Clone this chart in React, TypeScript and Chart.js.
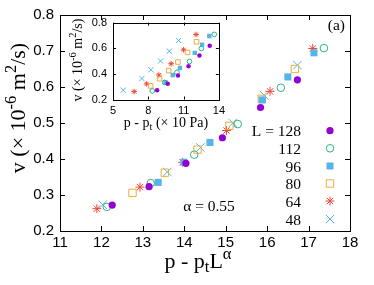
import React, { useEffect, useRef } from 'react';
import { Chart, registerables } from 'chart.js';
Chart.register(...registerables);

// ---- data ----
const seriesNames = ['128', '112', '96', '80', '64', '48'];
// shared v values (×10^-6 m^2/s)
const v128 = [0.272, 0.323, 0.388, 0.459, 0.543, 0.620];
const v112 = [0.267, 0.333, 0.412, 0.497, 0.598, 0.708];
const v96 = [0.335, 0.391, 0.446, 0.564, 0.628, 0.695];
const v80 = [0.306, 0.362, 0.426, 0.492, 0.567, 0.650];
const v64 = [0.262, 0.322, 0.391, 0.479, 0.588, 0.707];
const v48 = [0.273, 0.364, 0.432, 0.500, 0.577, 0.661];
// main: p - p_t L^alpha
const x128 = [12.26, 13.15, 14.04, 14.92, 15.84, 16.73];
const x112 = [12.13, 13.19, 14.24, 15.29, 16.33, 17.37];
const x96 = [13.37, 13.99, 14.62, 15.88, 16.50, 17.13];
const x80 = [12.75, 13.53, 14.32, 15.09, 15.87, 16.67];
const x64 = [11.89, 12.93, 13.96, 15.02, 16.07, 17.10];
const x48 = [12.03, 13.59, 14.39, 15.17, 15.93, 16.73];
// inset: p - p_t (×10 Pa)
const ix128 = [8.75, 9.65, 10.52, 11.42, 12.35, 13.22];
const ix112 = [8.34, 9.39, 10.44, 11.50, 12.51, 13.61];
const ix96 = [9.46, 10.08, 10.69, 11.95, 12.57, 13.19];
const ix80 = [8.20, 8.96, 9.73, 10.52, 11.34, 12.10];
const ix64 = [6.80, 7.86, 8.90, 9.94, 11.00, 12.06];
const ix48 = [5.87, 7.46, 8.22, 9.04, 9.79, 10.58];

const mainXTicks = [11, 12, 13, 14, 15, 16, 17, 18];
const mainYTicks = [0.2, 0.3, 0.4, 0.5, 0.6, 0.7, 0.8];
const insetXTicks = [5, 8, 11, 14];
const insetYTicks = [0.2, 0.4, 0.6, 0.8];
const alphaText = 'α = 0.55';
const panelText = '(a)';

const mainXs = [x128, x112, x96, x80, x64, x48];
const insetXs = [ix128, ix112, ix96, ix80, ix64, ix48];
const vs = [v128, v112, v96, v80, v64, v48];

type Kind = 'fcircle' | 'ocircle' | 'fsquare' | 'osquare' | 'star' | 'cross';
const styles: { kind: Kind; color: string }[] = [
  { kind: 'fcircle', color: '#9400D3' },
  { kind: 'ocircle', color: '#2fb488' },
  { kind: 'fsquare', color: '#56B4E9' },
  { kind: 'osquare', color: '#EBAE3A' },
  { kind: 'star', color: '#F0453A' },
  { kind: 'cross', color: '#56B4E9' },
];

const SANS = "'Liberation Sans', Arial, sans-serif";
const SERIF = "'Liberation Serif', 'Times New Roman', serif";

function pointCfg(kind: Kind, color: string, scale: number) {
  switch (kind) {
    case 'fcircle':
      return { pointStyle: 'circle', pointRadius: 3.6 * scale, pointBackgroundColor: color, pointBorderColor: color, pointBorderWidth: 0 };
    case 'ocircle':
      return { pointStyle: 'circle', pointRadius: 3.8 * scale, pointBackgroundColor: 'rgba(0,0,0,0)', pointBorderColor: color, pointBorderWidth: 1 };
    case 'fsquare':
      return { pointStyle: 'rect', pointRadius: 5 * scale, pointBackgroundColor: color, pointBorderColor: color, pointBorderWidth: 0 };
    case 'osquare':
      return { pointStyle: 'rect', pointRadius: 5.2 * scale, pointBackgroundColor: 'rgba(0,0,0,0)', pointBorderColor: color, pointBorderWidth: 1 };
    case 'star':
      return { pointStyle: 'star', pointRadius: 4.5 * scale, pointBackgroundColor: color, pointBorderColor: color, pointBorderWidth: 1 };
    default:
      return { pointStyle: 'crossRot', pointRadius: 6 * scale, pointBackgroundColor: color, pointBorderColor: color, pointBorderWidth: 1 };
  }
}

function buildDatasets(xs: number[][], scale: number) {
  return xs.map((xarr, i) => ({
    label: seriesNames[i],
    data: xarr.map((x, j) => ({ x, y: vs[i][j] })),
    showLine: false,
    ...pointCfg(styles[i].kind, styles[i].color, scale),
  }));
}

type Seg = { t: string; s?: 'sup' | 'sub' };
function drawRich(ctx: CanvasRenderingContext2D, segs: Seg[], x: number, y: number, size: number, rotate: boolean, align: 'center' | 'left' | 'right' = 'center') {
  ctx.save();
  ctx.translate(x, y);
  if (rotate) ctx.rotate(-Math.PI / 2);
  const small = size * 0.75;
  let total = 0;
  const widths = segs.map((sg) => {
    ctx.font = `${sg.s ? small : size}px ${SERIF}`;
    const w = ctx.measureText(sg.t).width;
    total += w;
    return w;
  });
  let cx = align === 'center' ? -total / 2 : align === 'right' ? -total : 0;
  ctx.textAlign = 'left';
  ctx.textBaseline = 'alphabetic';
  ctx.fillStyle = '#000';
  segs.forEach((sg, i) => {
    ctx.font = `${sg.s ? small : size}px ${SERIF}`;
    const dy = sg.s === 'sup' ? -size * 0.42 : sg.s === 'sub' ? size * 0.2 : 0;
    ctx.fillText(sg.t, cx, dy);
    cx += widths[i];
  });
  ctx.restore();
}

function drawMarker(ctx: CanvasRenderingContext2D, kind: Kind, x: number, y: number, color: string) {
  ctx.save();
  ctx.strokeStyle = color;
  ctx.fillStyle = color;
  ctx.lineWidth = 1;
  ctx.beginPath();
  if (kind === 'fcircle') { ctx.arc(x, y, 3.6, 0, Math.PI * 2); ctx.fill(); }
  else if (kind === 'ocircle') { ctx.arc(x, y, 3.8, 0, Math.PI * 2); ctx.stroke(); }
  else if (kind === 'fsquare') { ctx.rect(x - 3.5, y - 3.5, 7, 7); ctx.fill(); }
  else if (kind === 'osquare') { ctx.rect(x - 3.7, y - 3.7, 7.4, 7.4); ctx.stroke(); }
  else if (kind === 'star') {
    const r = 4.5, o = r * Math.SQRT1_2;
    ctx.moveTo(x - r, y); ctx.lineTo(x + r, y); ctx.moveTo(x, y - r); ctx.lineTo(x, y + r);
    ctx.moveTo(x - o, y - o); ctx.lineTo(x + o, y + o); ctx.moveTo(x - o, y + o); ctx.lineTo(x + o, y - o);
    ctx.stroke();
  } else {
    const o = 6 * Math.SQRT1_2;
    ctx.moveTo(x - o, y - o); ctx.lineTo(x + o, y + o); ctx.moveTo(x - o, y + o); ctx.lineTo(x + o, y - o);
    ctx.stroke();
  }
  ctx.restore();
}

function tickPlugin(len: number) {
  return {
    id: 'innerTicks',
    afterDraw(chart: any) {
      const { ctx, chartArea: a, scales } = chart;
      const xs = scales.x, ys = scales.y;
      ctx.save();
      ctx.strokeStyle = '#000';
      ctx.lineWidth = 1;
      ctx.beginPath();
      xs.ticks.forEach((t: any) => {
        const p = Math.round(xs.getPixelForValue(t.value)) + 0.5;
        ctx.moveTo(p, a.bottom); ctx.lineTo(p, a.bottom - len);
        ctx.moveTo(p, a.top); ctx.lineTo(p, a.top + len);
      });
      ys.ticks.forEach((t: any) => {
        const p = Math.round(ys.getPixelForValue(t.value)) + 0.5;
        ctx.moveTo(a.left, p); ctx.lineTo(a.left + len, p);
        ctx.moveTo(a.right, p); ctx.lineTo(a.right - len, p);
      });
      ctx.stroke();
      ctx.strokeRect(Math.round(a.left) + 0.5, Math.round(a.top) + 0.5, Math.round(a.right - a.left), Math.round(a.bottom - a.top));
      ctx.restore();
    },
  };
}

const textPlugin = {
  id: 'texts',
  afterDraw(chart: any) {
    const ctx: CanvasRenderingContext2D = chart.ctx;
    const vTitle: Seg[] = [{ t: 'v (× 10' }, { t: '-6', s: 'sup' }, { t: ' m' }, { t: '2', s: 'sup' }, { t: '/s)' }];
    drawRich(ctx, vTitle, 25, 108, 22, true);
    drawRich(ctx, [{ t: 'p - p' }, { t: 't', s: 'sub' }, { t: 'L' }, { t: 'α', s: 'sup' }], 198, 268, 22, false);
    drawRich(ctx, vTitle, 82, 60, 14, true);
    drawRich(ctx, [{ t: 'p - p' }, { t: 't', s: 'sub' }, { t: ' (× 10 Pa)' }], 166, 127, 14, false);
    drawRich(ctx, [{ t: alphaText }], 209, 211, 15.5, false);
    drawRich(ctx, [{ t: panelText }], 345, 30, 15.5, false, 'right');
    const rowY = [130.7, 148.3, 166, 183.5, 201, 219];
    seriesNames.forEach((n, i) => {
      const txt = i === 0 ? 'L = ' + n : n;
      drawRich(ctx, [{ t: txt }], 301, rowY[i] + 5.5, 15.5, false, 'right');
      drawMarker(ctx, styles[i].kind, 330, rowY[i], styles[i].color);
    });
  },
};

function makeScales(xmin: number, xmax: number, xstep: number, ymin: number, ymax: number, ystep: number, font: number, yW: number, xH: number, xPad: number, yPad: number, yDec: number) {
  return {
    x: {
      type: 'linear', min: xmin, max: xmax,
      grid: { display: false, drawTicks: false },
      border: { display: false },
      ticks: { stepSize: xstep, color: '#000', font: { family: SANS, size: font }, padding: xPad, maxRotation: 0, autoSkip: false },
      afterFit: (s: any) => { s.height = xH; },
    },
    y: {
      type: 'linear', min: ymin, max: ymax,
      grid: { display: false, drawTicks: false },
      border: { display: false },
      ticks: { stepSize: ystep, color: '#000', font: { family: SANS, size: font }, padding: yPad, autoSkip: false, callback: (v: any) => Number(v).toFixed(yDec) },
      afterFit: (s: any) => { s.width = yW; },
    },
  };
}

export default function App() {
  const mainRef = useRef<HTMLCanvasElement>(null);
  const insetRef = useRef<HTMLCanvasElement>(null);

  useEffect(() => {
    document.body.style.margin = '0';
    const main = new Chart(mainRef.current!, {
      type: 'scatter',
      data: { datasets: buildDatasets(mainXs, 1) as any },
      options: {
        responsive: false, animation: false, devicePixelRatio: 1, events: [],
        layout: { padding: { left: 0, top: 12, right: 24, bottom: 0 } },
        plugins: { legend: { display: false }, tooltip: { enabled: false } },
        scales: makeScales(mainXTicks[0], mainXTicks[mainXTicks.length - 1], 1, mainYTicks[0], mainYTicks[mainYTicks.length - 1], 0.1, 15, 60, 54, 3, 6, 1) as any,
      },
      plugins: [tickPlugin(5), textPlugin],
    });
    const inset = new Chart(insetRef.current!, {
      type: 'scatter',
      data: { datasets: buildDatasets(insetXs, 0.62) as any },
      options: {
        responsive: false, animation: false, devicePixelRatio: 1, events: [],
        layout: { padding: { left: 0, top: 10, right: 10, bottom: 0 } },
        plugins: { legend: { display: false }, tooltip: { enabled: false } },
        scales: makeScales(insetXTicks[0], insetXTicks[insetXTicks.length - 1], 3, insetYTicks[0], insetYTicks[insetYTicks.length - 1], 0.2, 11, 51, 44.5, 5, 6, 1) as any,
      },
      plugins: [tickPlugin(3)],
    });
    return () => { main.destroy(); inset.destroy(); };
  }, []);

  return (
    <div style={{ position: 'relative', width: 374, height: 285, background: '#fff' }}>
      <canvas ref={mainRef} width={374} height={285} style={{ position: 'absolute', left: 0, top: 0 }} />
      <canvas ref={insetRef} width={168} height={134} style={{ position: 'absolute', left: 62, top: 10 }} />
    </div>
  );
}
